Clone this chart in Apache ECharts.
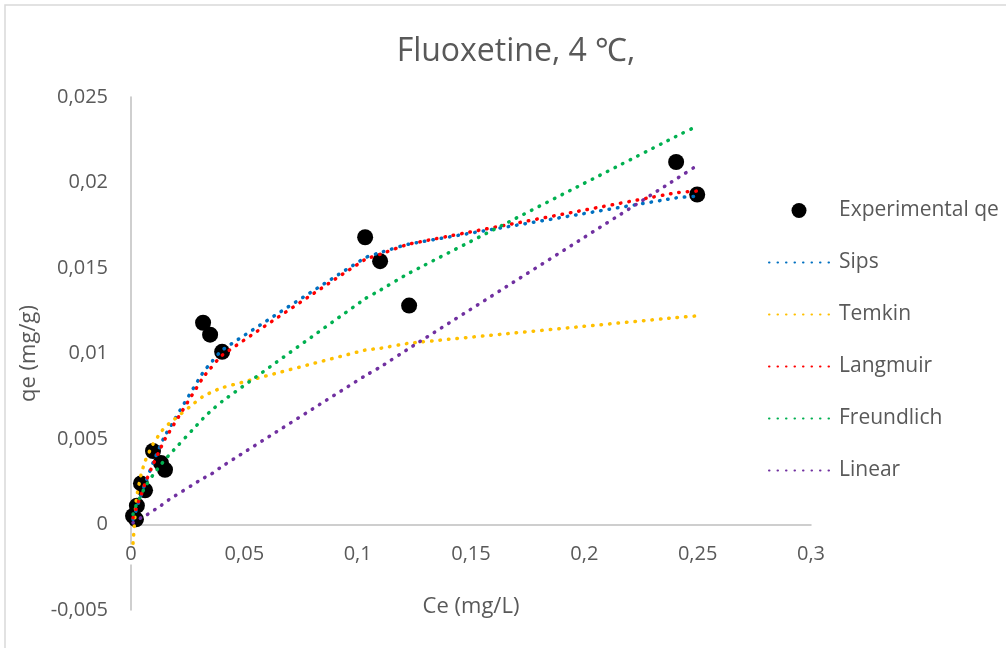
<!DOCTYPE html>
<html>
<head>
<meta charset="utf-8">
<script src="https://cdn.jsdelivr.net/npm/echarts@6/dist/echarts.min.js"></script>
<style>
  html, body { margin: 0; padding: 0; background: #fff; }
  #chart { width: 1006px; height: 648px; }
</style>
</head>
<body>
<div id="chart"></div>
<script>
    // values
    var ceExp = [0.0009, 0.0022, 0.0026, 0.0044, 0.0062, 0.0097, 0.0132, 0.0150, 0.0318, 0.0349, 0.0402, 0.1033, 0.1099, 0.1227, 0.2405, 0.2498];
    var qeExp = [0.0005, 0.0003, 0.0011, 0.0024, 0.0020, 0.0043, 0.0036, 0.0032, 0.0118, 0.0111, 0.0101, 0.0168, 0.0154, 0.0128, 0.0212, 0.0193];
    var qeSips = [0.0003, 0.0008, 0.0010, 0.0017, 0.0024, 0.0036, 0.0047, 0.0052, 0.0089, 0.0094, 0.0102, 0.0156, 0.0159, 0.0164, 0.0191, 0.0192];
    var qeTemkin = [-0.0011, 0.0013, 0.0017, 0.0029, 0.0037, 0.0047, 0.0054, 0.0057, 0.0075, 0.0077, 0.0080, 0.0102, 0.0103, 0.0106, 0.0121, 0.0122];
    var qeLangmuir = [0.0004, 0.0009, 0.0011, 0.0017, 0.0024, 0.0035, 0.0045, 0.0050, 0.0086, 0.0091, 0.0099, 0.0155, 0.0158, 0.0164, 0.0194, 0.0195];
    var qeFreundlich = [0.0006, 0.0011, 0.0012, 0.0017, 0.0022, 0.0029, 0.0035, 0.0038, 0.0062, 0.0066, 0.0072, 0.0132, 0.0137, 0.0147, 0.0227, 0.0233];
    var qeLinear = [0.0001, 0.0002, 0.0002, 0.0004, 0.0005, 0.0008, 0.0011, 0.0013, 0.0027, 0.0029, 0.0034, 0.0087, 0.0092, 0.0103, 0.0202, 0.0210];

    var xTicks = {min: 0, max: 0.3, step: 0.05};
    var yTicks = {min: -0.005, max: 0.025, step: 0.005};

    var FONT = '"Open Sans", Lato, sans-serif';
    var GREY = '#595959';

    function pairs(ys) {
        return ceExp.map(function (x, i) { return [x, ys[i]]; });
    }
    function comma(v) {
        return String(+v.toFixed(4)).replace('.', ',');
    }
    function dotted(name, color, ys) {
        return {
            name: name,
            type: 'line',
            data: pairs(ys),
            showSymbol: false,
            symbol: 'none',
            smooth: 0.15,
            lineStyle: {color: color, width: 3.5, type: [0.5, 8], cap: 'round'},
            itemStyle: {color: color}
        };
    }
    function lineLegend(name) {
        return {name: name, itemStyle: {opacity: 0}};
    }

    var chart = echarts.init(document.getElementById('chart'));
    var option = {};
    option.backgroundColor = '#fff';
    option.textStyle = {fontFamily: FONT};
    option.graphic = [{
        type: 'rect',
        shape: {x: 5, y: 5, width: 1100, height: 1000},
        style: {fill: 'none', stroke: '#d9d9d9', lineWidth: 1.5},
        silent: true
    }];
    option.title = {
        text: 'Fluoxetine, 4 ℃,',
        left: 511,
        textAlign: 'center',
        top: 31,
        textStyle: {fontFamily: FONT, fontSize: 32, fontWeight: 'normal', color: GREY}
    };
    option.legend = {
        orient: 'vertical',
        left: 763,
        top: 195,
        itemWidth: 60,
        itemHeight: 15,
        itemGap: 31,
        textStyle: {fontFamily: FONT, fontSize: 21, color: GREY, padding: [0, 0, 0, 5]},
        data: ['Experimental qe', lineLegend('Sips'), lineLegend('Temkin'), lineLegend('Langmuir'),
            lineLegend('Freundlich'), lineLegend('Linear')]
    };
    option.grid = {left: 131, right: 195, top: 97, bottom: 38, containLabel: false, outerBoundsMode: 'none'};
    option.xAxis = {
        type: 'value',
        min: xTicks.min,
        max: xTicks.max,
        interval: xTicks.step,
        // sit the axis on qe = 0 (0,005 above the bottom of the plot)
        offset: -85.5,
        name: 'Ce (mg/L)',
        nameLocation: 'middle',
        nameGap: 71,
        nameTextStyle: {fontFamily: FONT, fontSize: 22, color: GREY},
        axisLine: {onZero: false, lineStyle: {color: '#bfbfbf', width: 1.5}},
        axisTick: {show: false},
        splitLine: {show: false},
        axisLabel: {
            margin: 20,
            fontSize: 20,
            color: GREY,
            backgroundColor: '#fff',
            formatter: comma
        }
    };
    option.yAxis = {
        type: 'value',
        min: yTicks.min,
        max: yTicks.max,
        interval: yTicks.step,
        name: 'qe (mg/g)',
        nameLocation: 'middle',
        nameGap: 88,
        nameTextStyle: {fontFamily: FONT, fontSize: 22, color: GREY},
        axisLine: {show: true, onZero: true, lineStyle: {color: '#bfbfbf', width: 1.5}},
        axisTick: {show: false},
        splitLine: {show: false},
        axisLabel: {margin: 23, fontSize: 20, color: GREY, formatter: comma}
    };
    option.series = [
        {
            name: 'Experimental qe',
            type: 'scatter',
            data: pairs(qeExp),
            symbol: 'circle',
            symbolSize: 16,
            itemStyle: {color: '#000', opacity: 1}
        },
        dotted('Sips', '#0070c0', qeSips),
        dotted('Temkin', '#ffc000', qeTemkin),
        dotted('Langmuir', '#ff0000', qeLangmuir),
        dotted('Freundlich', '#00b050', qeFreundlich),
        dotted('Linear', '#7030a0', qeLinear)
    ];
    chart.setOption(option);
</script>
</body>
</html>
